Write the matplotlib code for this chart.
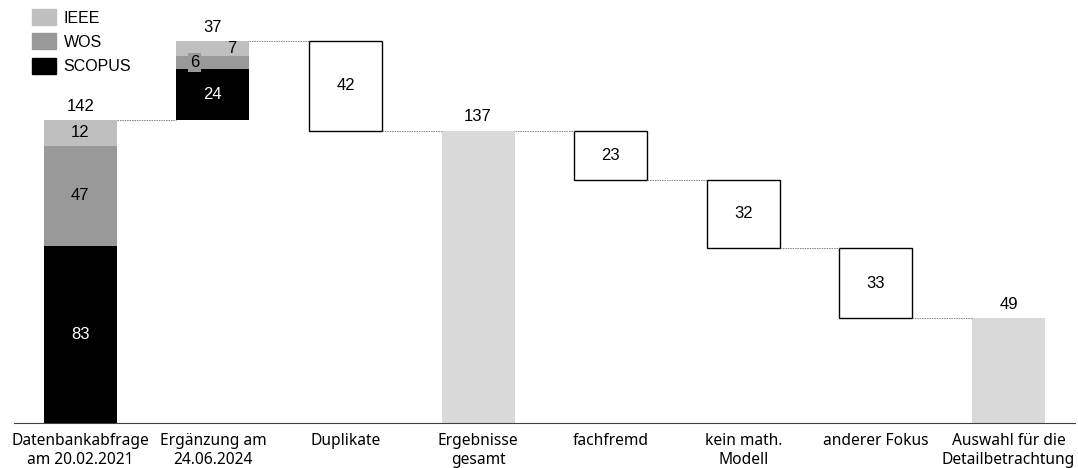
import numpy as np
import matplotlib.pyplot as plt
from matplotlib.patches import Patch

# Datenbankabfragen (gestapelt nach Quelle)
quellen = ['SCOPUS', 'WOS', 'IEEE']
abfrage_2021 = [83, 47, 12]
ergaenzung_2024 = [24, 6, 7]

# Aussortierte Treffer (Waterfall-Schritte)
duplikate = 42
ausschluss = [23, 32, 33]

kategorien = ['Datenbankabfrage\nam 20.02.2021', 'Ergänzung am\n24.06.2024', 'Duplikate',
              'Ergebnisse\ngesamt', 'fachfremd', 'kein math.\nModell', 'anderer Fokus',
              'Auswahl für die\nDetailbetrachtung']

farben = {'SCOPUS': '#000000', 'WOS': '#999999', 'IEEE': '#bfbfbf'}
grau_summe = '#d9d9d9'
num_font = 'Liberation Sans'
lab_font = 'Noto Sans'
fs = 12

fig = plt.figure(figsize=(10.78, 4.68), dpi=100)
ax = fig.add_axes([0.013, 0.0962, 0.984, 0.9038])
wid = 0.55
x = np.arange(len(kategorien))


def stapel(xpos, werte, basis):
    b = basis
    for q, w in zip(quellen, werte):
        ax.bar(xpos, w, bottom=b, width=wid, color=farben[q], linewidth=0)
        b += w
    return b


# Balken 1 und 2
top1 = stapel(x[0], abfrage_2021, 0)
top2 = stapel(x[1], ergaenzung_2024, top1)

# Werte im ersten Balken
b = 0
for q, w in zip(quellen, abfrage_2021):
    ax.text(x[0], b + w / 2, str(w), ha='center', va='center', fontsize=fs, family=num_font,
            color='white' if q == 'SCOPUS' else 'black')
    b += w
ax.text(x[0], top1 + 3, str(top1), ha='center', va='bottom', fontsize=fs, family=num_font)

# Werte im zweiten Balken
s, wo, ie = ergaenzung_2024
ax.text(x[1], top1 + s / 2, str(s), ha='center', va='center', fontsize=fs, family=num_font, color='white')
ax.text(x[1] - 0.14, top1 + s + wo / 2, str(wo), ha='center', va='center', fontsize=fs, family=num_font,
        bbox=dict(boxstyle='square,pad=0.12', fc='#999999', ec='none'))
ax.text(x[1] + 0.14, top1 + s + wo + ie / 2, str(ie), ha='center', va='center', fontsize=fs, family=num_font)
ax.text(x[1], top2 + 3, str(sum(ergaenzung_2024)), ha='center', va='bottom', fontsize=fs, family=num_font)

# Duplikate
gesamt = top2 - duplikate
ax.bar(x[2], duplikate, bottom=gesamt, width=wid, color='white', edgecolor='black', linewidth=1)
ax.text(x[2], gesamt + duplikate / 2, str(duplikate), ha='center', va='center', fontsize=fs, family=num_font)

# Ergebnisse gesamt
ax.bar(x[3], gesamt, width=wid, color=grau_summe, linewidth=0)
ax.text(x[3], gesamt + 3, str(gesamt), ha='center', va='bottom', fontsize=fs, family=num_font)

# Ausschluss-Schritte
stand = gesamt
stufen = [(x[0], top1), (x[1], top2), (x[2], gesamt), (x[3], gesamt)]
for i, w in enumerate(ausschluss):
    xi = x[4 + i]
    ax.bar(xi, w, bottom=stand - w, width=wid, color='white', edgecolor='black', linewidth=1)
    ax.text(xi, stand - w / 2, str(w), ha='center', va='center', fontsize=fs, family=num_font)
    stand -= w
    stufen.append((xi, stand))

# Auswahl
ax.bar(x[7], stand, width=wid, color=grau_summe, linewidth=0)
ax.text(x[7], stand + 3, str(stand), ha='center', va='bottom', fontsize=fs, family=num_font)

# Verbindungslinien
for (xa, ya), xb in zip(stufen, x[1:]):
    ax.plot([xa + wid / 2, xb - wid / 2], [ya, ya], color='#808080', linestyle=(0, (1.5, 1)),
            linewidth=0.7)

ax.set_xlim(-0.5, 7.5)
ax.set_ylim(0, 198.2)
ax.set_xticks(x)
ax.set_xticklabels(kategorien, fontsize=11.2, family=lab_font, linespacing=1.27)
ax.tick_params(axis='x', length=0, pad=7)
ax.set_yticks([])
for sp in ['top', 'right', 'left']:
    ax.spines[sp].set_visible(False)
ax.spines['bottom'].set_color('#404040')

handles = [Patch(color=farben[q]) for q in ['IEEE', 'WOS', 'SCOPUS']]
fig.legend(handles, ['IEEE', 'WOS', 'SCOPUS'], loc='upper left', bbox_to_anchor=(0.019, 1.006),
           frameon=False, prop={'family': num_font, 'size': 11.5}, handlelength=1.45,
           handleheight=1.15, labelspacing=0.5, handletextpad=0.5, borderaxespad=0.35)

fig.savefig('out.png', dpi=100)
